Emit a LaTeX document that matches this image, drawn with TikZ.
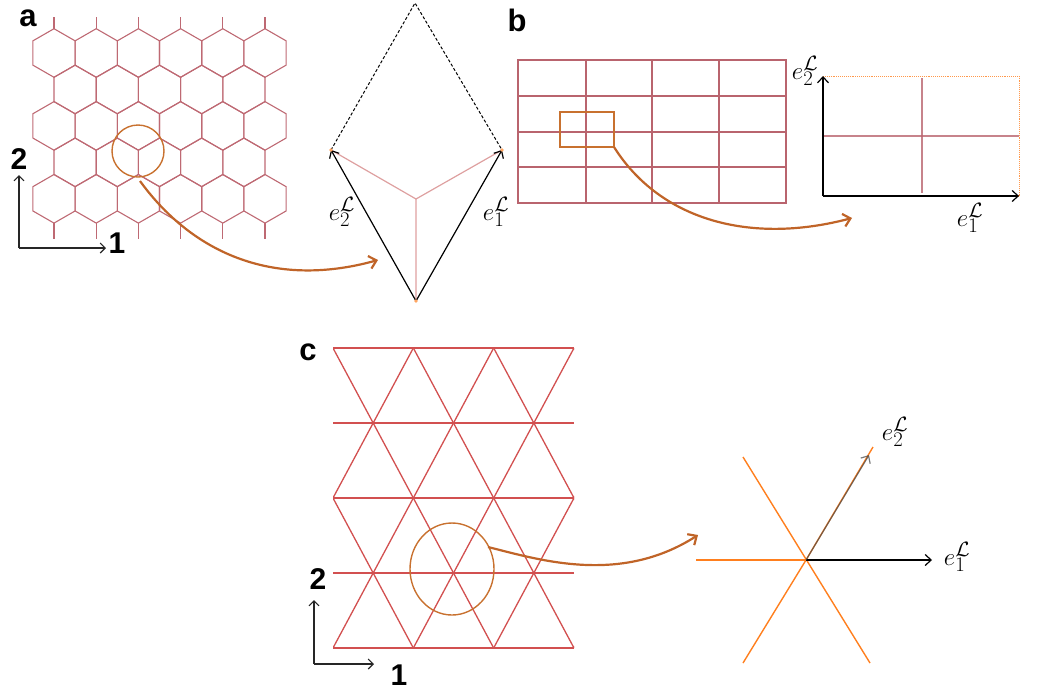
\documentclass[tikz,border=0pt]{standalone}
\usepackage{fontspec}
\newfontfamily\labfont{Liberation Sans}
\usetikzlibrary{arrows.meta}
\definecolor{hexred}{RGB}{190,105,115}
\definecolor{gridred}{RGB}{185,100,110}
\definecolor{trired}{RGB}{210,80,80}
\definecolor{pinkl}{RGB}{222,160,160}
\definecolor{brownarr}{RGB}{192,100,40}
\definecolor{circol}{RGB}{200,113,47}
\definecolor{orng}{RGB}{255,127,30}
\tikzset{
  hex/.style={draw=hexred, line width=1.1pt},
  gridl/.style={draw=gridred, line width=1.2pt},
  tril/.style={draw=trired, line width=1.3pt},
  zoomarr/.style={draw=brownarr, line width=2.2pt, -{Straight Barb[length=7pt,width=13pt]}},
  vecarr/.style={draw=black, line width=1.2pt, -{Straight Barb[length=6pt,width=11pt]}},
  axarr/.style={draw=black!85, line width=1.1pt, -{Straight Barb[length=5pt,width=10pt]}},
  panellab/.style={font=\labfont\bfseries\fontsize{31}{33}\selectfont, inner sep=0pt},
  numlab/.style={font=\labfont\bfseries\fontsize{30}{32}\selectfont, inner sep=0pt},
  veclab/.style={font=\fontsize{31}{33}\selectfont, inner sep=0pt},
  dotv/.style={fill=orng!70, draw=none}
}
\begin{document}
\begin{tikzpicture}[x=1pt,y=-1pt]
\useasboundingbox (0,0) rectangle (1059,691);
% ---------------- panel a: honeycomb
\def\hw{21.1}\def\hs{24.3}
\foreach \r in {0,2,4}{
  \foreach \j in {0,...,5}{
    \pgfmathsetmacro\cx{54+42.2*\j}
    \pgfmathsetmacro\cy{53+36.45*\r}
    \draw[hex] (\cx,{\cy-\hs}) -- ++(\hw,{\hs/2}) -- ++(0,\hs) -- ++(-\hw,{\hs/2}) -- ++(-\hw,{-\hs/2}) -- ++(0,-\hs) -- cycle;
  }
}
\foreach \r in {1,3}{
  \foreach \j in {0,...,4}{
    \pgfmathsetmacro\cx{75.1+42.2*\j}
    \pgfmathsetmacro\cy{53+36.45*\r}
    \draw[hex] (\cx,{\cy-\hs}) -- ++(\hw,{\hs/2}) -- ++(0,\hs) -- ++(-\hw,{\hs/2}) -- ++(-\hw,{-\hs/2}) -- ++(0,-\hs) -- cycle;
  }
}
\foreach \j in {0,...,5}{
  \pgfmathsetmacro\cx{54+42.2*\j}
  \draw[hex] (\cx,28.7) -- (\cx,17);
  \draw[hex] (\cx,223.1) -- (\cx,239);
}
\node[panellab] (la) at (28,18) {a};
\draw[circol, line width=1.4pt] (138,151) circle[radius=26pt];
\coordinate (aStart) at (140,181);
\coordinate (aEnd) at (378,260);
\draw[zoomarr] (aStart) .. controls (190,250) and (270,290) .. (aEnd);
% axes a
\coordinate (aO) at (19,248);
\coordinate (aUp) at (19,175);
\coordinate (aRt) at (106,248);
\draw[axarr] (aO) -- (aUp);
\draw[axarr] (aO) -- (aRt);
\node[numlab] (a2) at (19,159) {2};
\node[numlab] (a1) at (117,243) {1};
% inset a
\coordinate (aT) at (415,3);
\coordinate (aL) at (331,150);
\coordinate (aR) at (502,150);
\coordinate (aB) at (416,301);
\coordinate (aC) at (416,199);
\draw[black, line width=1pt, dashed, dash pattern=on 3pt off 2pt] (aL) -- (aT) -- (aR);
\draw[pinkl, line width=1.2pt] (aC) -- (aL) (aC) -- (aR) (aC) -- (aB);
\draw[vecarr] (aB) -- (aL);
\draw[vecarr] (aB) -- (aR);
\fill[dotv] (aL) circle[radius=1.8pt] (aR) circle[radius=1.8pt] (aB) circle[radius=1.8pt];
\node[veclab] (ae2) at (342,212) {$e_2^{\mathcal{L}}$};
\node[veclab] (ae1) at (496,212) {$e_1^{\mathcal{L}}$};
% ---------------- panel b
\node[panellab] (lb) at (517,20) {b};
\draw[gridl] (518,60) rectangle (786,203);
\foreach \x in {586,652,719}{\draw[gridl] (\x,60) -- (\x,203);}
\foreach \y in {96,132,167}{\draw[gridl] (518,\y) -- (786,\y);}
\draw[circol, line width=1.2pt] (560,112) rectangle (614,147);
\coordinate (bStart) at (614,147);
\coordinate (bEnd) at (852,218);
\draw[zoomarr] (bStart) .. controls (660,220) and (750,245) .. (bEnd);
\coordinate (bO) at (823,196);
\coordinate (bY) at (823,76);
\coordinate (bX) at (1019,196);
\draw[orng!80, line width=0.9pt, densely dotted] (823,76) -- (1019,76) -- (1019,196);
\draw[brownarr, line width=1.6pt, densely dotted] (1019,196) -- (823,196);
\draw[gridred, line width=1.8pt, opacity=0.8] (823,136) -- (1019,136);
\draw[gridred, line width=1.5pt, opacity=0.8] (922,78) -- (922,193);
\draw[vecarr] (bO) -- (bY);
\draw[vecarr] (bO) -- (bX);
\node[veclab] (be2) at (805,71) {$e_2^{\mathcal{L}}$};
\node[veclab] (be1) at (970,218) {$e_1^{\mathcal{L}}$};
% ---------------- panel c
\node[panellab] (lc) at (308,352) {c};
\begin{scope}
\clip (333,348) rectangle (574,648);
\foreach \k in {-2,...,3}{
  \pgfmathsetmacro\xo{333+80.33*\k}
  \draw[tril] (\xo,348) -- ({\xo+160.67},648);
}
\foreach \k in {0,...,5}{
  \pgfmathsetmacro\xo{333+80.33*\k}
  \draw[tril] (\xo,348) -- ({\xo-160.67},648);
}
\end{scope}
\foreach \y in {348,423,498,573,648}{\draw[tril] (333,\y) -- (574,\y);}
\draw[circol, line width=1.4pt] (452,569) ellipse[x radius=42pt, y radius=46pt];
\coordinate (cStart) at (488,547);
\coordinate (cEnd) at (698,535);
\draw[zoomarr] (cStart) .. controls (540,560) and (620,585) .. (cEnd);
\coordinate (cO) at (314,664);
\coordinate (cUp) at (314,600);
\coordinate (cRt) at (374,664);
\draw[axarr] (cO) -- (cUp);
\draw[axarr] (cO) -- (cRt);
\node[numlab] (c2) at (318,579) {2};
\node[numlab] (c1) at (399,675) {1};
% inset c
\coordinate (cc) at (806,560);
\draw[orng, line width=1.4pt] (696,560) -- (cc);
\draw[orng, line width=1.4pt] (743,457) -- (870,663);
\draw[orng, line width=1.4pt] (743,663) -- (cc) -- (873,447);
\coordinate (ce1) at (932,560);
\coordinate (ce2) at (869,455);
\draw[vecarr] (cc) -- (ce1);
\draw[vecarr, draw=black!70, opacity=0.75] (cc) -- (ce2);
\node[veclab] (te2) at (895,432) {$e_2^{\mathcal{L}}$};
\node[veclab] (te1) at (957,557) {$e_1^{\mathcal{L}}$};
\end{tikzpicture}
\end{document}
